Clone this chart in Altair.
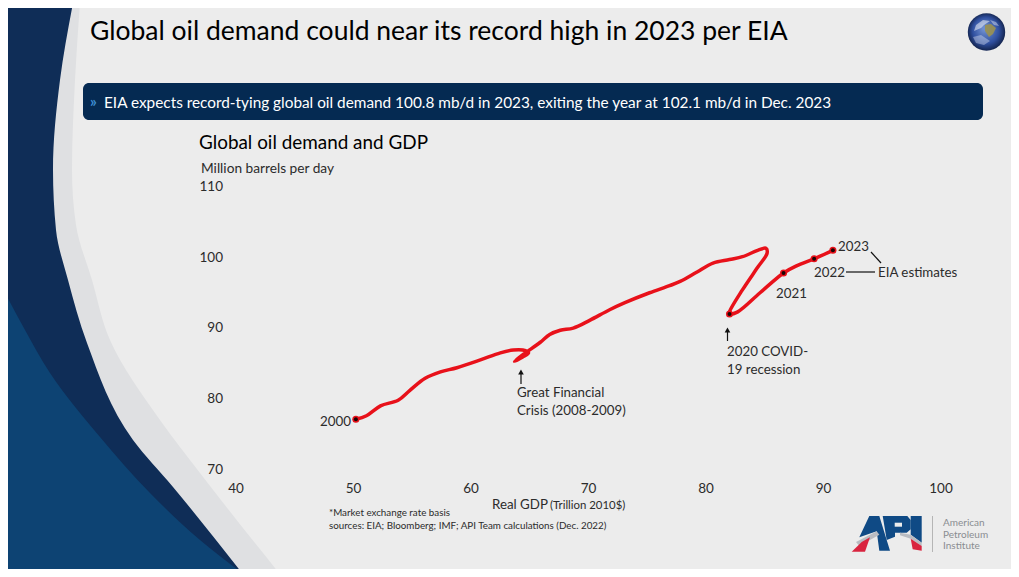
import altair as alt
import pandas as pd

# --- data ---
gdp = [50.2, 51.1, 52.3, 53.8, 54.8, 56.1, 57.4, 58.8, 60.8, 62.5, 63.6, 64.4, 64.9, 64.4, 63.7,
       64.3, 64.9, 65.9, 66.7, 67.6, 68.7, 70.1, 71.8, 73.1, 75.2, 76.9, 77.8, 79.2, 80.6, 82.0,
       83.1, 84.4, 85.1, 85.2, 84.4, 83.1, 82.0, 82.0, 82.7, 84.6, 86.6, 87.7, 89.2, 90.8]
demand = [77.0, 77.5, 78.9, 79.7, 81.1, 82.8, 83.7, 84.3, 85.4, 86.4, 86.8, 86.8, 86.4, 85.8, 85.2,
          86.0, 86.7, 87.9, 89.0, 89.6, 89.9, 91.0, 92.5, 93.5, 94.9, 95.9, 96.5, 97.8, 99.1, 99.6,
          100.0, 100.9, 101.2, 100.5, 98.5, 95.3, 92.2, 91.9, 92.2, 94.9, 97.7, 98.7, 99.7, 100.9]
marked_gdp = [50.2, 82.0, 86.6, 89.2, 90.8]
marked_demand = [77.0, 91.9, 97.7, 99.7, 100.9]
x_ticks = [40, 50, 60, 70, 80, 90, 100]
y_ticks = [70, 80, 90, 100, 110]

W, H = 1003, 561
PX = 11.75
PY = 7.07
def X(px): return 40 + (px - 236) / PX
def Y(py): return 110 - (py - 186) / PY

xs = alt.Scale(domain=[X(8), X(8 + W)], nice=False, zero=False)
ys = alt.Scale(domain=[Y(8 + H), Y(8)], nice=False, zero=False)
xe = lambda f="x": alt.X(f"{f}:Q", scale=xs, axis=None)
ye = lambda f="y": alt.Y(f"{f}:Q", scale=ys, axis=None)

FONT = "Lato"
layers = []

def band(points, color):
    d = pd.DataFrame({"x": [X(8)] * len(points), "x2": [X(p[0]) for p in points], "y": [Y(p[1]) for p in points]})
    return alt.Chart(d).mark_area(orient="horizontal", color=color, interpolate="monotone", clip=True).encode(
        x=xe(), x2="x2:Q", y=ye())

gray_edge = [(80, 3), (75, 80), (72, 170), (76, 225), (92, 280), (110, 340), (160, 420), (200, 473), (279, 573)]
navy_edge = [(73, 3), (60, 80), (53, 170), (56, 230), (68, 280), (87, 343), (133, 440), (173, 487), (242, 573)]
blue_edge = [(2, 287), (25, 330), (50, 373), (100, 437), (150, 493), (200, 540), (242, 573)]
layers += [band(gray_edge, "#dfe0e2"), band(navy_edge, "#0f2d57"), band(blue_edge, "#0d4373")]

def shape(path, color, opacity=1.0):
    """Decorative vector shape; path is in page pixels, offset from the view origin."""
    return alt.Chart(pd.DataFrame({"a": [0]})).mark_point(
        shape=path, size=4, filled=True, color=color, opacity=opacity, stroke=None
    ).encode(x=alt.value(0), y=alt.value(0))

def poly(pts):
    return "M" + "L".join(f"{a - 8:.1f},{b - 8:.1f}" for a, b in pts) + "Z"

def label(text, px, py, size=13, color="#2b2b2b", align="left", weight=400, font=FONT):
    d = pd.DataFrame({"x": [X(px)], "y": [Y(py)], "t": [text]})
    return alt.Chart(d).mark_text(align=align, baseline="middle", fontSize=size, color=color,
                                  fontWeight=weight, font=font).encode(x=xe(), y=ye(), text="t:N")

# banner
banner = pd.DataFrame({"x": [X(83)], "x2": [X(983)], "y": [Y(83)], "y2": [Y(120)]})
layers.append(alt.Chart(banner).mark_rect(color="#052a52", cornerRadius=6).encode(x=xe(), x2="x2:Q", y=ye(), y2="y2:Q"))
layers.append(label("»", 90, 102, size=15, color="#3f8fd2", weight=700))
layers.append(label("EIA expects record-tying global oil demand 100.8 mb/d in 2023, exiting the year at 102.1 mb/d in Dec. 2023",
                    104, 102.5, size=15.35, color="#ffffff"))
layers.append(label("Global oil demand could near its record high in 2023 per EIA", 90, 32, size=26.5, color="#000000"))
layers.append(label("Global oil demand and GDP", 199, 143, size=18.9, color="#000000"))
layers.append(label("Million barrels per day", 201, 168.5, size=13.7))

# tick labels, placed through the chart's scales
xt = pd.DataFrame({"x": x_ticks, "y": [Y(489)] * len(x_ticks), "t": [str(v) for v in x_ticks]})
yt = pd.DataFrame({"x": [X(223)] * len(y_ticks), "y": y_ticks, "t": [str(v) for v in y_ticks]})
tick_style = dict(baseline="middle", fontSize=13.5, color="#2b2b2b", font=FONT)
layers.append(alt.Chart(xt).mark_text(align="center", **tick_style).encode(x=xe(), y=ye(), text="t:N"))
layers.append(alt.Chart(yt).mark_text(align="right", dy=1, **tick_style).encode(x=xe(), y=ye(), text="t:N"))

# line and markers
line_df = pd.DataFrame({"gdp": gdp, "demand": demand, "order": range(len(gdp))})
layers.append(alt.Chart(line_df).mark_line(color="#e8111a", strokeWidth=3.5, interpolate="catmull-rom").encode(
    x=xe("gdp"), y=ye("demand"), order="order:Q"))
mk = pd.DataFrame({"gdp": marked_gdp, "demand": marked_demand})
layers.append(alt.Chart(mk).mark_point(filled=True, color="#e8111a", size=50, opacity=1, stroke=None).encode(x=xe("gdp"), y=ye("demand")))
layers.append(alt.Chart(mk).mark_point(filled=True, color="#1a0505", size=16, opacity=1, stroke=None).encode(x=xe("gdp"), y=ye("demand")))

# annotations
def seg(x1, y1, x2, y2, w=1.2, color="#111111"):
    d = pd.DataFrame({"x": [X(x1), X(x2)], "y": [Y(y1), Y(y2)], "o": [0, 1]})
    return alt.Chart(d).mark_line(color=color, strokeWidth=w).encode(x=xe(), y=ye(), order="o:Q")

def arrow(px, top, bottom):
    tip = pd.DataFrame({"x": [X(px)], "y": [Y(top + 4)]})
    return [seg(px, bottom, px, top + 4),
            alt.Chart(tip).mark_point(shape="triangle-up", filled=True, color="#111111", size=32, opacity=1).encode(x=xe(), y=ye())]

layers += arrow(521, 368, 384)
layers += arrow(727.5, 326, 341)
layers += [seg(846, 272, 875, 272), seg(871, 252, 881, 263)]
layers += [label("2000", 351, 422, align="right", size=13.4),
           label("Great Financial", 517, 393, size=13.3),
           label("Crisis (2008-2009)", 517, 411, size=13.3),
           label("2020 COVID-", 727, 352, size=13.3),
           label("19 recession", 727, 370, size=13.3),
           label("2021", 776, 294, size=13.3),
           label("2022", 814, 273, size=13.3),
           label("2023", 838, 247, size=13.3),
           label("EIA estimates", 878, 273, size=13.3),
           label("Real GDP", 492, 505, size=13.3),
           label("(Trillion 2010$)", 550, 505.5, size=11.4),
           label("*Market exchange rate basis", 329, 513, size=9.8),
           label("sources:  EIA; Bloomberg; IMF; API Team calculations (Dec. 2022)", 329, 526, size=9.8)]

# logo
def Z(zx, zy): return (820 + zx / 3, 490 + zy / 3)
API_BLUE, API_RED, API_GRAY = "#0f4a85", "#d9243f", "#b9bcc2"
layers.append(shape(poly([Z(*p) for p in [(118, 142), (148, 78), (178, 78), (210, 182), (178, 182), (170, 124)]]), API_BLUE))
layers.append(shape(poly([Z(*p) for p in [(188, 78), (262, 78), (272, 90), (272, 118), (260, 128), (225, 128), (225, 140), (200, 150)]]), API_BLUE))
layers.append(shape(poly([Z(*p) for p in [(272, 78), (305, 78), (305, 158), (272, 134)]]), API_BLUE))
layers.append(shape(poly([Z(*p) for p in [(224, 98), (246, 98), (246, 110), (224, 110)]]), "#ececec"))
layers.append(shape(poly([Z(*p) for p in [(108, 156), (170, 124), (178, 134), (118, 168)]]), API_GRAY))
layers.append(shape(poly([Z(*p) for p in [(240, 128), (272, 134), (305, 158), (305, 168), (272, 146), (240, 136)]]), API_GRAY))
layers.append(shape(poly([Z(*p) for p in [(95, 185), (125, 156), (150, 142), (135, 185)]]), API_RED))
layers.append(shape(poly([Z(*p) for p in [(272, 146), (305, 168), (305, 182), (278, 178)]]), API_RED))
layers.append(seg(932.5, 516, 932.5, 552, w=1, color="#b5b5b5"))
layers += [label("American", 943, 523, size=10, color="#8a8d91"),
           label("Petroleum", 943, 534.5, size=10, color="#8a8d91"),
           label("Institute", 943, 546, size=10, color="#8a8d91")]

# globe
globe = pd.DataFrame({"x": [X(986.5)], "y": [Y(32)]})
layers.append(alt.Chart(globe).mark_point(
    filled=True, size=1400, opacity=1, stroke=None,
    color=alt.Gradient(gradient="radial", x1=0.45, y1=0.4, x2=0.5, y2=0.5, r1=0.05, r2=0.55,
                       stops=[alt.GradientStop(color="#6f8fd0", offset=0), alt.GradientStop(color="#2f4f9f", offset=0.6),
                              alt.GradientStop(color="#0d1a3a", offset=1)])).encode(x=xe(), y=ye()))
layers.append(shape(poly([(976, 25), (983, 20), (990, 21), (984, 25), (981, 28), (974, 31)]), "#ffffff", 0.5))
layers.append(shape(poly([(985, 25), (991, 24), (996, 28), (993, 34), (989, 37), (985, 31)]), "#9a9150", 0.9))
layers.append(shape(poly([(973, 37), (981, 35), (990, 41), (984, 45), (976, 43)]), "#ffffff", 0.35))
layers.append(shape(poly([(990, 20), (996, 22), (999, 26), (994, 25)]), "#ffffff", 0.4))

chart = alt.layer(*layers).properties(
    width=W, height=H, padding=0, background="#ececec",
    autosize=alt.AutoSizeParams(type="none")
).configure_view(stroke=None, fill=None)

chart.save("out.html", embed_options={"renderer": "svg", "actions": False})
